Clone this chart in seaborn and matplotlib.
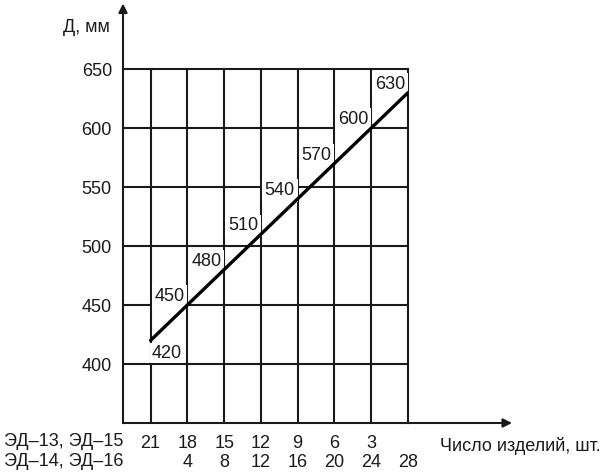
import matplotlib
matplotlib.use("Agg")
import matplotlib.pyplot as plt
import seaborn as sns
import pandas as pd

# данные
n_ed14 = [0, 4, 8, 12, 16, 20, 24, 28]          # ЭД-14, ЭД-16 (ось X)
n_ed13 = [21, 18, 15, 12, 9, 6, 3, None]        # ЭД-13, ЭД-15 (верхний ряд подписей)
diam = [420, 450, 480, 510, 540, 570, 600, 630]  # Д, мм
y_ticks = [400, 450, 500, 550, 600, 650]

df = pd.DataFrame({"n": n_ed14, "d": diam})

sns.set_style("white")
plt.rcParams['font.family'] = ['Liberation Sans', 'DejaVu Sans']
ink = "#1a1a1a"
fs = 13

fig = plt.figure(figsize=(6, 4.74), dpi=100)
ax = fig.add_axes([0.205, 0.1076, 0.475, 0.7468])

# сетка
ax.vlines(n_ed14[:-1], 350, 650, color=ink, lw=1.5, zorder=1)
ax.hlines(y_ticks[:-1], -3, 28, color=ink, lw=1.5, zorder=1)

sns.lineplot(data=df, x="n", y="d", color="black", lw=2.4, ax=ax, zorder=5)

# подписи значений на линии
for x, d in zip(n_ed14, diam):
    if x == 0:
        ax.annotate(str(d), (x, d), xytext=(1, -3), textcoords="offset points",
                    ha="left", va="top", fontsize=fs, color=ink, zorder=3,
                    bbox=dict(boxstyle="square,pad=0.1", fc="white", ec="none"))
    else:
        ax.annotate(str(d), (x, d), xytext=(-2, 6), textcoords="offset points",
                    ha="right", va="center", fontsize=fs, color=ink, zorder=3,
                    bbox=dict(boxstyle="square,pad=0.15", fc="white", ec="none"))

ax.set_xlim(-3, 28)
ax.set_ylim(350, 650)
ax.set_yticks(y_ticks)
ax.set_xticks(n_ed14)
ax.set_xticklabels([f"{'' if a is None else a}\n{'' if b == 0 else b}"
                    for a, b in zip(n_ed13, n_ed14)])
for lbl in ax.get_xticklabels():
    lbl.set_linespacing(1.1)
ax.tick_params(axis="y", length=0, pad=8, labelsize=fs, labelcolor=ink)
ax.tick_params(axis="x", length=0, pad=9, labelsize=fs, labelcolor=ink)
ax.set_xlabel("")
ax.set_ylabel("")

for s in ax.spines.values():
    s.set_color(ink)
    s.set_linewidth(1.5)

# стрелки осей
ax.annotate("", xy=(0, 1.185), xytext=(0, 1), xycoords="axes fraction",
            arrowprops=dict(arrowstyle="-|>", lw=1.5, color=ink, mutation_scale=13,
                            shrinkA=0, shrinkB=0))
ax.annotate("", xy=(1.365, 0), xytext=(1, 0), xycoords="axes fraction",
            arrowprops=dict(arrowstyle="-|>", lw=1.5, color=ink, mutation_scale=13,
                            shrinkA=0, shrinkB=0))

fig.text(110 / 600, 1 - 27 / 474, "Д, мм", ha="right", va="center",
         fontsize=fs, color=ink)
fig.text(4 / 600, 1 - 442 / 474, "ЭД–13, ЭД–15", ha="left", va="center",
         fontsize=fs, color=ink)
fig.text(4 / 600, 1 - 462 / 474, "ЭД–14, ЭД–16", ha="left", va="center",
         fontsize=fs, color=ink)
fig.text(440 / 600, 1 - 446 / 474, "Число изделий, шт.", ha="left", va="center",
         fontsize=fs, color=ink)

fig.savefig("out.png", dpi=100)
